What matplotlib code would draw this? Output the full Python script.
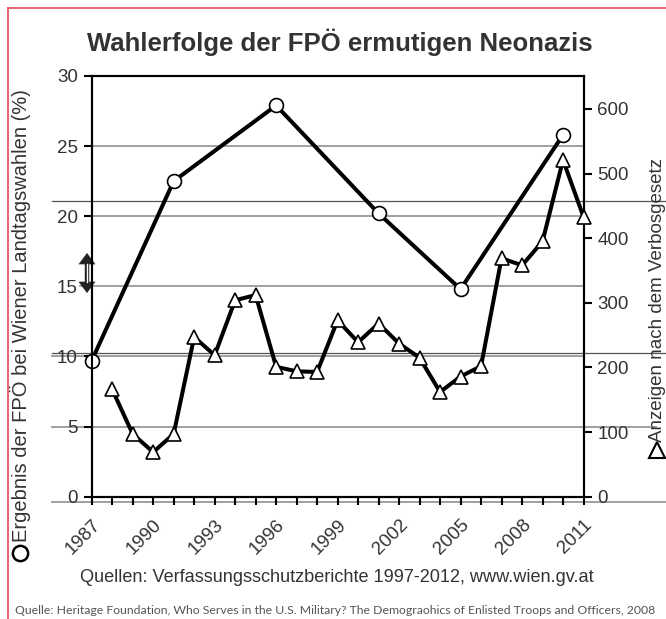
import matplotlib.pyplot as plt
from matplotlib.transforms import blended_transform_factory
from matplotlib.lines import Line2D

plt.rcParams['font.family'] = ['Liberation Sans', 'DejaVu Sans']

# FPÖ results at Vienna state elections (%)
wahl_years = [1987, 1991, 1996, 2001, 2005, 2010]
wahl_result = [9.7, 22.5, 27.9, 20.2, 14.8, 25.8]

# reports under the Verbotsgesetz
anzeigen_years = list(range(1988, 2012))
anzeigen = [166, 97, 69, 97, 247, 219, 304, 312, 201, 194, 193, 273,
            239, 268, 237, 215, 162, 186, 202, 369, 358, 395, 521, 433]

year_labels = list(range(1987, 2012, 3))
left_ticks = [0, 5, 10, 15, 20, 25, 30]
right_ticks = [0, 100, 200, 300, 400, 500, 600]

W, H = 666, 619
txt = '#333333'

fig = plt.figure(figsize=(W / 100, H / 100), dpi=100)
ax = fig.add_axes([91.7 / W, 1 - 496.7 / H, (583.5 - 91.7) / W, (496.7 - 76) / H])
ax2 = ax.twinx()

ax.set_xlim(1987, 2011)
ax.set_ylim(0, 30)
ax2.set_ylim(0, 651)

# grid lines (left-axis levels), some running past the frame like in the scan
fx = blended_transform_factory(fig.transFigure, ax.transData)
grid_spans = {25: (91.7, 583.5), 20: (91.7, 583.5), 15: (80, 583.5),
              10: (52, 583.5), 5: (52, 656), -0.35: (52, 666)}
for lev, (x0, x1) in grid_spans.items():
    ax.add_line(Line2D([x0 / W, x1 / W], [lev, lev], transform=fx, color='#999999',
                       lw=1.3, zorder=0, clip_on=False))
for lev in [21.11, 10.23]:
    ax.add_line(Line2D([52 / W, 1], [lev, lev], transform=fx, color='#555555',
                       lw=0.9, zorder=0, clip_on=False))

ax.plot(wahl_years, wahl_result, color='black', lw=2.9, marker='o', ms=10,
        mfc='white', mec='black', mew=1.2, zorder=3, clip_on=False)
ax2.plot(anzeigen_years, anzeigen, color='black', lw=2.9, marker='^', ms=10,
         mfc='white', mec='black', mew=1.2, zorder=3, clip_on=False)

for s in ['left', 'right', 'top', 'bottom']:
    ax.spines[s].set_linewidth(1.5)
    ax2.spines[s].set_linewidth(1.5)

ax.set_yticks(left_ticks)
ax.tick_params(axis='y', direction='out', length=6, width=1.5, labelsize=13.5,
               labelcolor=txt, pad=4)
ax2.set_yticks(right_ticks)
ax2.tick_params(axis='y', direction='out', length=6, width=1.5, labelsize=13.5,
                labelcolor=txt, pad=4)

ax.set_xticks(year_labels)
ax.set_xticks(range(1987, 2012), minor=True)
ax.tick_params(axis='x', which='both', direction='out', length=6, width=1.5)
ax.tick_params(axis='x', labelsize=13.5, labelcolor=txt, pad=8)
for lab in ax.get_xticklabels():
    lab.set_rotation(45)
    lab.set_ha('right')
    lab.set_rotation_mode('anchor')

fig.text(0.51, 1 - 42 / H, 'Wahlerfolge der FPÖ ermutigen Neonazis', ha='center',
         va='center', fontsize=18.5, fontweight='bold', color=txt)

# axis titles with their symbol markers
fig.add_artist(Line2D([20 / W], [1 - 553 / H], marker='o', ms=11, mfc='white',
                      mec='black', mew=1.8, ls='none'))
fig.text(20 / W, 1 - 316 / H, 'Ergebnis der FPÖ bei Wiener Landtagswahlen (%)',
         rotation=90, ha='center', va='center', fontsize=14.5, color=txt)
fig.add_artist(Line2D([657 / W], [1 - 450 / H], marker='^', ms=11, mfc='white',
                      mec='black', mew=1.5, ls='none'))
fig.text(657 / W, 1 - 300 / H, 'Anzeigen nach dem Verbosgesetz',
         rotation=90, ha='center', va='center', fontsize=13.5, color=txt)

fig.text(337 / W, 1 - 577 / H,
         'Quellen: Verfassungsschutzberichte 1997-2012, www.wien.gv.at',
         ha='center', va='center', fontsize=13.1, color=txt)
fig.text(15 / W, 1 - 610 / H,
         'Quelle: Heritage Foundation, Who Serves in the U.S. Military? '
         'The Demograohics of Enlisted Troops and Officers, 2008',
         ha='left', va='center', fontsize=8.8, color='#555555', family='Lato')

# double arrow left of the axis
fig.add_artist(Line2D([87 / W, 87 / W], [1 - 284 / H, 1 - 262 / H],
                      color='#222222', lw=3.2))
fig.add_artist(Line2D([87 / W, 87 / W], [1 - 282 / H, 1 - 264 / H],
                      color='white', lw=1.0))
for y0, y1 in [(273, 253), (273, 293)]:
    ax.annotate('', xy=(87, H - y1), xytext=(87, H - y0), xycoords='figure pixels',
                textcoords='figure pixels',
                arrowprops=dict(arrowstyle='-|>,head_width=0.6,head_length=0.8',
                                color='#222222', lw=0.1, shrinkA=0, shrinkB=0))

# red frame
red = '#e34a5a'
fig.add_artist(Line2D([8.3 / W, 1], [1 - 7.5 / H, 1 - 7.5 / H], color=red, lw=1.2))
fig.add_artist(Line2D([8.3 / W, 8.3 / W], [0, 1 - 7.5 / H], color=red, lw=1.2))

fig.savefig('out.png', dpi=100)
